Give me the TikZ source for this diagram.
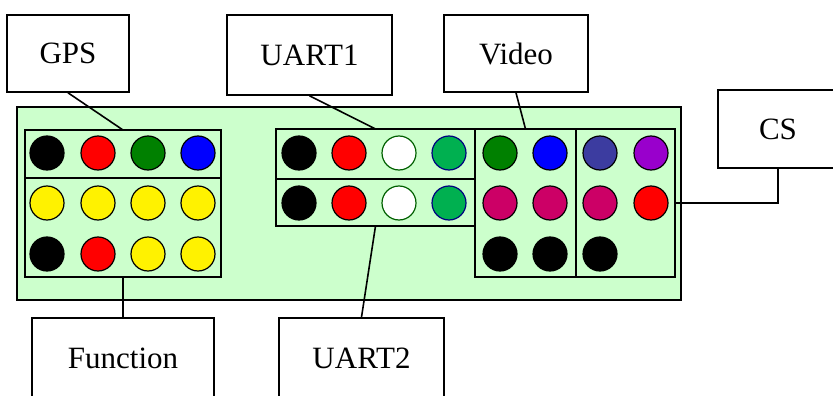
\documentclass[tikz,border=0pt]{standalone}
\usepackage{fontspec}
\setmainfont{Liberation Serif}
\usetikzlibrary{positioning}

\definecolor{boardgreen}{RGB}{204,255,204}
\definecolor{dkgreen}{RGB}{0,128,0}
\definecolor{uartgreen}{RGB}{0,176,80}
\definecolor{navyblue}{RGB}{0,0,128}
\definecolor{slateblue}{RGB}{60,60,160}
\definecolor{violet}{RGB}{153,0,204}
\definecolor{berry}{RGB}{204,0,102}
\definecolor{edgegreen}{RGB}{0,96,0}

\tikzset{
  lbl/.style={draw, fill=white, line width=1.6pt, font=\fontsize{31}{36}\selectfont},
  board/.style={draw, fill=boardgreen, line width=1.6pt, outer sep=0pt},
  blk/.style={draw, line width=1.6pt, outer sep=0pt},
  dot/.style={circle, draw, line width=1.2pt, minimum size=34pt, inner sep=0pt}
}

\begin{document}
\begin{tikzpicture}[x=1pt, y=-1pt]
    \clip (0,0) rectangle (833,396);
    \fill[white] (0,0) rectangle (833,396);

    % labels
    \node[lbl, minimum width=122, minimum height=77] (gps) at (68,53.5) {GPS};
    \node[lbl, minimum width=165, minimum height=80] (uart1) at (309.5,55) {UART1};
    \node[lbl, minimum width=144, minimum height=77] (video) at (516,53.5) {Video};
    \node[lbl, minimum width=120, minimum height=78] (cs) at (778,129) {CS};
    \node[lbl, minimum width=182, minimum height=80] (func) at (123,358) {Function};
    \node[lbl, minimum width=165, minimum height=80] (uart2) at (361.5,358) {UART2};

    % board and pin groups
    \node[board, minimum width=664, minimum height=193] (brd) at (349,203.5) {};
    \node[blk, minimum width=196, minimum height=48] (gpsblk) at (123,154) {};
    \node[blk, minimum width=196, minimum height=99, below=0pt of gpsblk] (funcblk) {};
    \node[blk, minimum width=199, minimum height=50] (uart1blk) at (375.5,154) {};
    \node[blk, minimum width=199, minimum height=47, below=0pt of uart1blk] (uart2blk) {};
    \node[blk, minimum width=101, minimum height=148] (vidblk) at (525.5,203) {};
    \node[blk, minimum width=99, minimum height=148, right=0pt of vidblk] (csblk) {};

    % pins
    \foreach \x/\y/\c/\e in {47/153/black/black, 98/153/red/black, 148/153/dkgreen/black, 198/153/blue/black,
        47/203/yellow/black, 98/203/yellow/black, 148/203/yellow/black, 198/203/yellow/black,
        47/254/black/black, 98/254/red/black, 148/254/yellow/black, 198/254/yellow/black,
        299/153/black/black, 349/153/red/black, 399/153/white/edgegreen, 449/153/uartgreen/navyblue,
        299/203/black/black, 349/203/red/black, 399/203/white/edgegreen, 449/203/uartgreen/navyblue,
        500/153/dkgreen/black, 550/153/blue/black, 600/153/slateblue/black, 651/153/violet/black,
        500/203/berry/black, 550/203/berry/black, 600/203/berry/black, 651/203/red/black,
        500/254/black/black, 550/254/black/black, 600/254/black/black}
        \node[dot, fill=\c, draw=\e] at (\x,\y) {};

    % connectors
    \draw[line width=1.6pt] (gps.south) -- (gpsblk.north);
    \draw[line width=1.6pt] (uart1.south) -- (uart1blk.north);
    \draw[line width=1.6pt] (video.south) -- (vidblk.north);
    \draw[line width=1.6pt] (funcblk.south) -- (func.north);
    \draw[line width=1.6pt] (uart2blk.south) -- (uart2.north);
    \draw[line width=1.6pt] (cs.south) |- (csblk.east);

\end{tikzpicture}
\end{document}
